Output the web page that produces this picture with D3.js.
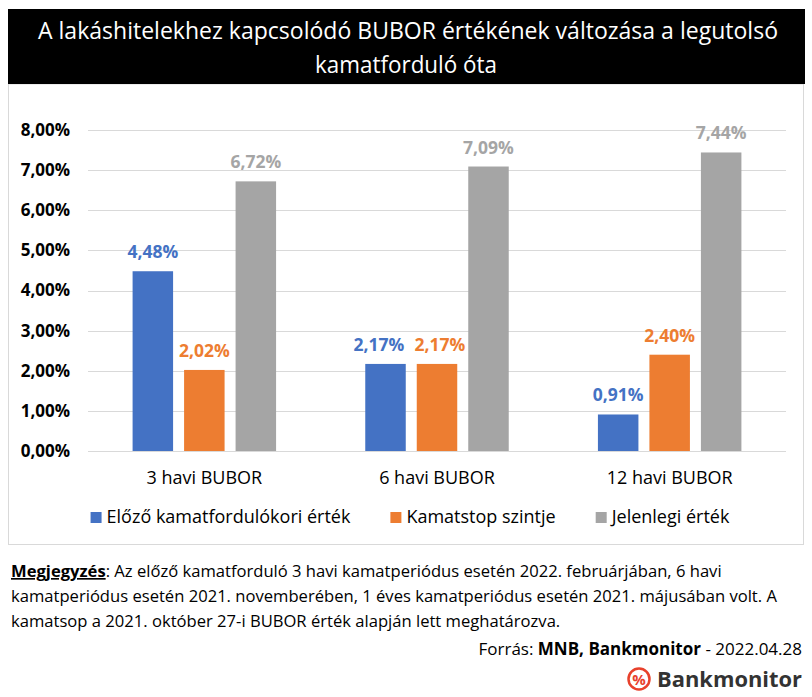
<!DOCTYPE html>
<html><head><meta charset="utf-8">
<script src="https://cdn.jsdelivr.net/npm/d3@7"></script>
<style>
html,body{margin:0;padding:0;background:#fff;}
svg{display:block;font-family:"Open Sans",sans-serif;}
</style></head>
<body>
<script>
const categories = ["3 havi BUBOR", "6 havi BUBOR", "12 havi BUBOR"];
const seriesNames = ["Előző kamatfordulókori érték", "Kamatstop szintje", "Jelenlegi érték"];
const previousValues = [4.48, 2.17, 0.91];
const capValues = [2.02, 2.17, 2.40];
const currentValues = [6.72, 7.09, 7.44];
const yTicks = [0, 1, 2, 3, 4, 5, 6, 7, 8];
const colors = ["#4472C4", "#ED7D31", "#A5A5A5"];
const titleLines = ["A lakáshitelekhez kapcsolódó BUBOR értékének változása a legutolsó", "kamatforduló óta"];
const noteLines = [
  "Az előző kamatforduló 3 havi kamatperiódus esetén 2022. februárjában, 6 havi",
  "kamatperiódus esetén 2021. novemberében, 1 éves kamatperiódus esetén 2021. májusában volt. A",
  "kamatsop a 2021. október 27-i BUBOR érték alapján lett meghatározva."
];

const seriesValues = [previousValues, capValues, currentValues];
const W = 812, H = 697;
const svg = d3.select("body").append("svg").attr("width", W).attr("height", H);

// chart frame
svg.append("rect").attr("x", 8.5).attr("y", 84).attr("width", 795).attr("height", 460.5)
  .attr("fill", "#fff").attr("stroke", "#D9D9D9").attr("stroke-width", 1);

// title box
svg.append("rect").attr("x", 8).attr("y", 9).attr("width", 797).attr("height", 75).attr("fill", "#000");
const tl = svg.append("g").attr("fill", "#fff").attr("font-size", 23).attr("text-anchor", "middle");
tl.append("text").attr("x", 408).attr("y", 39).attr("textLength", 740).attr("lengthAdjust", "spacingAndGlyphs").text(titleLines[0]);
tl.append("text").attr("x", 406).attr("y", 73).attr("textLength", 182).attr("lengthAdjust", "spacingAndGlyphs").text(titleLines[1]);

// scales
const x0 = d3.scaleBand().domain(categories).range([88, 786]).padding(0);
const x1 = d3.scaleBand().domain(seriesNames).range([0, x0.bandwidth()]).paddingInner(0.2136).paddingOuter(0.866);
const y = d3.scaleLinear().domain([0, 8]).range([451, 130]);
const fmt = v => d3.format(".2f")(v).replace(".", ",") + "%";

// gridlines
svg.append("g").selectAll("line").data(yTicks).join("line")
  .attr("x1", 88).attr("x2", 786)
  .attr("y1", d => Math.round(y(d)) + 0.5).attr("y2", d => Math.round(y(d)) + 0.5)
  .attr("stroke", "#D9D9D9").attr("stroke-width", 1);

// y axis labels
const yAxis = d3.axisLeft(y).tickValues(yTicks).tickSize(0).tickPadding(0).tickFormat(fmt);
const yg = svg.append("g").attr("transform", "translate(70,0)").call(yAxis);
yg.select(".domain").remove();
yg.selectAll("text").attr("font-family", "Open Sans").attr("font-size", 17).attr("font-weight", "bold").attr("fill", "#000");

// x axis labels
const xAxis = d3.axisBottom(x0).tickSize(0).tickPadding(0);
const xg = svg.append("g").attr("transform", "translate(0,471)").call(xAxis);
xg.select(".domain").remove();
xg.selectAll("text").attr("font-family", "Open Sans").attr("font-size", 18).attr("fill", "#000");

// bars + value labels
const groups = svg.append("g").selectAll("g").data(categories).join("g")
  .attr("transform", d => `translate(${x0(d)},0)`);
groups.each(function(cat, ci) {
  const g = d3.select(this);
  const labels = [];
  seriesNames.forEach((s, si) => {
    const v = seriesValues[si][ci];
    g.append("rect").attr("x", x1(s)).attr("y", y(v)).attr("width", x1.bandwidth())
      .attr("height", y(0) - y(v)).attr("fill", colors[si]);
    const t = g.append("text").attr("x", x1(s) + x1.bandwidth() / 2).attr("y", y(v) - 13)
      .attr("text-anchor", "middle").attr("font-size", 17.5).attr("font-weight", "bold")
      .attr("fill", colors[si]).text(fmt(v));
    labels.push(t);
  });
  // nudge overlapping neighbour labels apart
  for (let i = 0; i < labels.length - 1; i++) {
    const a = labels[i], b = labels[i + 1];
    const ba = a.node().getBBox(), bb = b.node().getBBox();
    const vOverlap = ba.y < bb.y + bb.height && bb.y < ba.y + ba.height;
    const overlap = ba.x + ba.width + 10 - bb.x;
    if (vOverlap && overlap > 0) {
      a.attr("x", +a.attr("x") - overlap * 0.7);
      b.attr("x", +b.attr("x") + overlap * 0.3);
    }
  }
});

// legend
const leg = svg.append("g").attr("font-size", 18).attr("fill", "#000");
const items = seriesNames.map((s, i) => {
  const g = leg.append("g");
  g.append("rect").attr("x", 0).attr("y", -11).attr("width", 11).attr("height", 11).attr("fill", colors[i]);
  const t = g.append("text").attr("x", 16).attr("y", 0).text(s);
  return {g, w: 16 + t.node().getComputedTextLength()};
});
const gap = 40;
const total = d3.sum(items, d => d.w) + gap * (items.length - 1);
let lx = 410 - total / 2;
items.forEach(it => { it.g.attr("transform", `translate(${lx},523)`); lx += it.w + gap; });

// note
const note = svg.append("g").attr("font-size", 16.6).attr("fill", "#000");
const n1 = note.append("text").attr("x", 11).attr("y", 577);
n1.append("tspan").attr("font-weight", "bold").attr("text-decoration", "underline").text("Megjegyzés");
n1.append("tspan").text(": " + noteLines[0]);
note.append("text").attr("x", 11).attr("y", 602).text(noteLines[1]);
note.append("text").attr("x", 11).attr("y", 627).text(noteLines[2]);

// source
const src = svg.append("text").attr("x", 802).attr("y", 655).attr("text-anchor", "end").attr("font-size", 17).attr("fill", "#000");
src.append("tspan").text("Forrás: ");
src.append("tspan").attr("font-weight", "bold").text("MNB, Bankmonitor");
src.append("tspan").text(" - 2022.04.28");

// logo
const logo = svg.append("g");
logo.append("circle").attr("cx", 639).attr("cy", 679).attr("r", 10.5).attr("fill", "#fff").attr("stroke", "#E8412C").attr("stroke-width", 2.5);
logo.append("text").attr("x", 639).attr("y", 684.5).attr("text-anchor", "middle").attr("font-size", 15).attr("font-weight", "bold").attr("fill", "#E8412C").text("%");
logo.append("text").attr("x", 657).attr("y", 687).attr("font-size", 22).attr("font-weight", "bold").attr("fill", "#333")
  .attr("textLength", 145).attr("lengthAdjust", "spacingAndGlyphs").text("Bankmonitor");
</script>
</body></html>
